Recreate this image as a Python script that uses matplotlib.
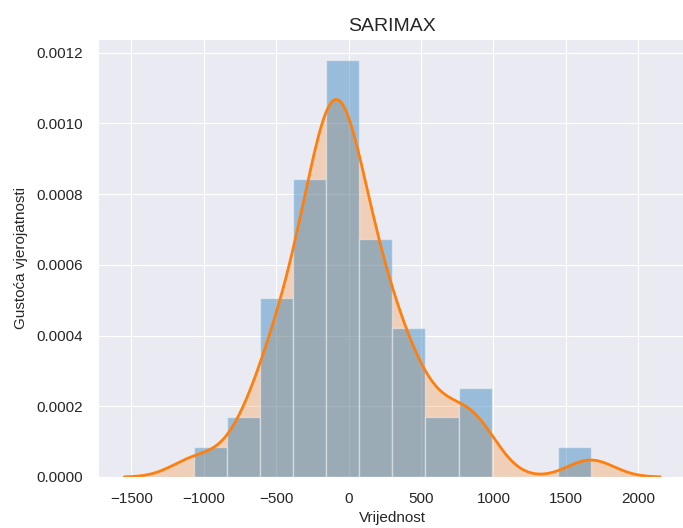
import numpy as np
import matplotlib.pyplot as plt
import seaborn as sns

sns.set_style("darkgrid")
plt.rcParams['font.family'] = ['Liberation Sans', 'DejaVu Sans']

# residual values (12 bins from min to max)
residuals = [
    -1068,
    -780, -650,
    -590, -540, -500, -460, -420, -390,
    -360, -320, -290, -260, -240, -220, -200, -185, -170, -160,
    -145, -120, -100, -90, -80, -70, -60, -50, -40, -30, -20, 0, 25, 55,
    80, 100, 125, 150, 180, 210, 240, 280,
    310, 350, 400, 450, 500,
    600, 700,
    800, 870, 940,
    1672,
]
n_bins = 12
bandwidth = 160

data = np.array(residuals, dtype=float)

# gaussian kde, same support as seaborn (cut=3)
xs = np.linspace(data.min() - 3 * bandwidth, data.max() + 3 * bandwidth, 300)
dens = np.exp(-0.5 * ((xs[:, None] - data[None, :]) / bandwidth) ** 2).sum(axis=1)
dens = dens / (len(data) * bandwidth * np.sqrt(2 * np.pi))

fig = plt.figure(figsize=(6.83, 5.28), dpi=100)
ax = fig.add_subplot(111)
fig.subplots_adjust(left=0.143, right=1.006, bottom=0.0966, top=0.926)

ax.fill_between(xs, dens, color='#ff7f0e', alpha=0.25, linewidth=0)
ax.hist(data, bins=n_bins, density=True, color='#1f77b4', alpha=0.4,
        edgecolor='white', linewidth=1)
ax.plot(xs, dens, color='#ff7f0e', linewidth=2)

ax.set_ylim(bottom=0)
ax.set_title('SARIMAX', fontsize=14)
ax.set_xlabel('Vrijednost', fontsize=11)
ax.set_ylabel('Gustoća vjerojatnosti', fontsize=11, labelpad=6)
ax.tick_params(labelsize=11, pad=7)

fig.savefig('out.png', dpi=100)
